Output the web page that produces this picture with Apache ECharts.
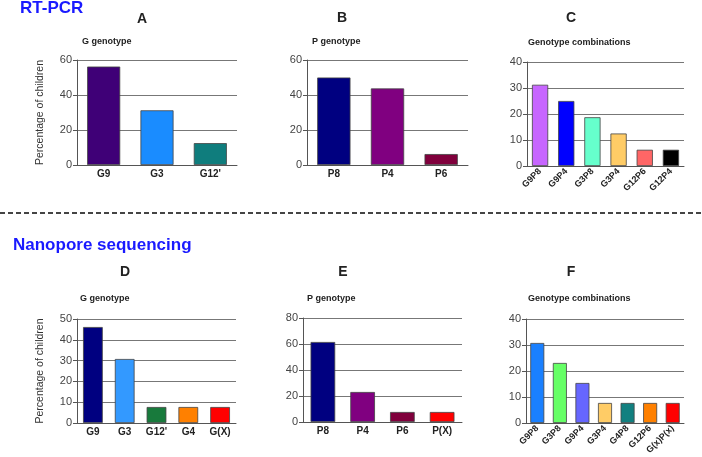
<!DOCTYPE html>
<html><head><meta charset="utf-8">
<script src="https://cdn.jsdelivr.net/npm/echarts@6/dist/echarts.min.js"></script>
<style>html,body{margin:0;padding:0;background:#fff}#c{width:702px;height:457px}</style>
</head><body><div id="c"></div>
<script>
// ---- data ----
const catsA = ['G9', 'G3', "G12'"];
const valsA = [56.25, 31.25, 12.5];
const colorsA = ['#3f0077', '#1a8cff', '#0f7d7d'];

const catsB = ['P8', 'P4', 'P6'];
const valsB = [50, 43.75, 6.25];
const colorsB = ['#000080', '#800080', '#80003c'];

const catsC = ['G9P8', 'G9P4', 'G3P8', 'G3P4', 'G12P6', 'G12P4'];
const valsC = [31.25, 25, 18.75, 12.5, 6.25, 6.25];
const colorsC = ['#c766ff', '#0000ff', '#66ffcc', '#ffcc66', '#ff6666', '#000000'];

const catsD = ['G9', 'G3', "G12'", 'G4', 'G(X)'];
const valsD = [46.15, 30.77, 7.69, 7.69, 7.69];
const colorsD = ['#000080', '#3399ff', '#187a3c', '#ff8000', '#ff0000'];

const catsE = ['P8', 'P4', 'P6', 'P(X)'];
const valsE = [61.54, 23.08, 7.69, 7.69];
const colorsE = ['#000080', '#800080', '#80003c', '#ff0000'];

const catsF = ['G9P8', 'G3P8', 'G9P4', 'G3P4', 'G4P8', 'G12P6', 'G(x)P(x)'];
const valsF = [30.77, 23.08, 15.38, 7.69, 7.69, 7.69, 7.69];
const colorsF = ['#1a80ff', '#66ff66', '#6666ff', '#ffcc66', '#128080', '#ff8000', '#ff0000'];

const yMax = [60, 60, 40, 50, 80, 40];
const yStep = [20, 20, 10, 10, 20, 10];

// ---- layout ----
const FONT = "'Liberation Sans', Arial, sans-serif";
const panels = [
  {cats: catsA, vals: valsA, colors: colorsA, grid: {left: 77, top: 60, width: 160, height: 105}, rot: 0, yName: true},
  {cats: catsB, vals: valsB, colors: colorsB, grid: {left: 307, top: 60, width: 161, height: 105}, rot: 0},
  {cats: catsC, vals: valsC, colors: colorsC, grid: {left: 527, top: 62, width: 157, height: 104}, rot: 45},
  {cats: catsD, vals: valsD, colors: colorsD, grid: {left: 77, top: 319, width: 159, height: 104}, rot: 0, yName: true},
  {cats: catsE, vals: valsE, colors: colorsE, grid: {left: 303, top: 318, width: 159, height: 104}, rot: 0},
  {cats: catsF, vals: valsF, colors: colorsF, grid: {left: 526, top: 319, width: 158, height: 104}, rot: 45}
];

const grid = [], xAxis = [], yAxis = [], series = [];
panels.forEach((p, i) => {
  grid.push(Object.assign({containLabel: false}, p.grid));
  xAxis.push({
    type: 'category', gridIndex: i, data: p.cats,
    axisLine: {show: true, lineStyle: {color: '#555', width: 1}},
    axisTick: {show: false},
    axisLabel: {interval: 0, rotate: p.rot, fontFamily: FONT, fontWeight: 'bold',
      fontSize: p.rot ? 9 : 10, color: '#222', margin: 4}
  });
  yAxis.push({
    type: 'value', gridIndex: i, min: 0, max: yMax[i], interval: yStep[i],
    axisLine: {show: true, lineStyle: {color: '#555', width: 1}},
    axisTick: {show: true, length: 4, lineStyle: {color: '#555'}},
    axisLabel: {fontFamily: FONT, fontSize: 11, color: '#444', margin: 5},
    splitLine: {show: true, lineStyle: {color: '#777', width: 1}},
    name: p.yName ? 'Percentage of children' : '',
    nameLocation: 'middle', nameGap: 31, nameRotate: 90,
    nameTextStyle: {fontFamily: FONT, fontSize: 10.5, color: '#333'}
  });
  series.push({
    type: 'bar', xAxisIndex: i, yAxisIndex: i, barWidth: '62%',
    data: p.vals.map((v, k) => ({value: v, itemStyle: {color: p.colors[k]}})),
    itemStyle: {borderColor: '#444', borderWidth: 0.8}
  });
});

function txt(x, y, text, size, opts) {
  return Object.assign({
    type: 'text', x: x, y: y,
    style: Object.assign({text: text, fontFamily: FONT, fontSize: size, fontWeight: 'bold',
      fill: '#222', textAlign: 'center', textVerticalAlign: 'middle'}, opts || {})
  });
}

const graphic = [
  txt(20, 8, 'RT-PCR', 17, {fill: '#1a1aff', textAlign: 'left'}),
  txt(13, 245, 'Nanopore sequencing', 17, {fill: '#1a1aff', textAlign: 'left'}),
  txt(142, 19, 'A', 14), txt(342, 18, 'B', 14), txt(571, 18, 'C', 14),
  txt(125, 272, 'D', 14), txt(343, 272, 'E', 14), txt(571, 272, 'F', 14),
  txt(82, 42, 'G genotype', 9, {textAlign: 'left'}),
  txt(312, 42, 'P genotype', 9, {textAlign: 'left'}),
  txt(528, 43, 'Genotype combinations', 9, {textAlign: 'left'}),
  txt(80, 299, 'G genotype', 9, {textAlign: 'left'}),
  txt(307, 299, 'P genotype', 9, {textAlign: 'left'}),
  txt(528, 299, 'Genotype combinations', 9, {textAlign: 'left'}),
  {type: 'line', shape: {x1: 0, y1: 213, x2: 702, y2: 213},
   style: {stroke: '#444', lineWidth: 2, lineDash: [5, 3]}}
];

const chart = echarts.init(document.getElementById('c'), null, {renderer: 'canvas'});
chart.setOption({animation: false, grid, xAxis, yAxis, series, graphic});
</script>
</body></html>
